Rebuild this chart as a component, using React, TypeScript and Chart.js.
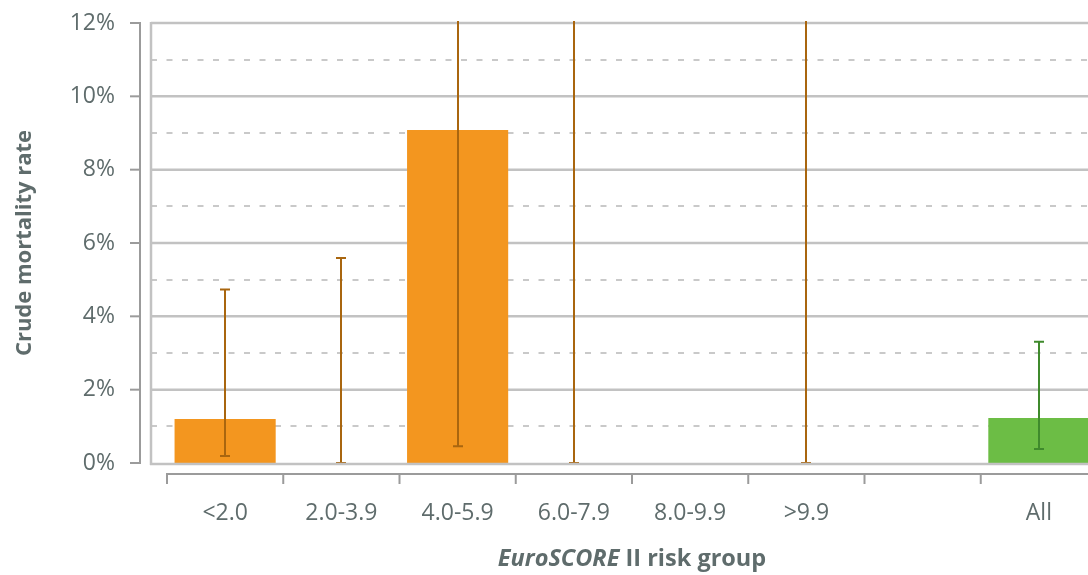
import { useEffect, useRef } from 'react';
import { Chart, registerables } from 'chart.js';

Chart.register(...registerables);

// EuroSCORE II risk groups (the blank slot separates the groups from the total)
const categories = ['<2.0', '2.0-3.9', '4.0-5.9', '6.0-7.9', '8.0-9.9', '>9.9', '', 'All'];
// Crude mortality rate, %
const mortality = [1.2, 0, 9.08, 0, null, 0, null, 1.23];
// 95% confidence interval bounds, %
const ciLow = [0.19, 0, 0.46, 0, null, 0, null, 0.38];
const ciHigh = [4.73, 5.59, 41, 84, null, 97.5, null, 3.31];
// Y axis ticks, %
const yTicks = [0, 2, 4, 6, 8, 10, 12];

const ORANGE = '#F3961F';
const GREEN = '#6CBD45';
const ORANGE_ERR = '#A9660F';
const GREEN_ERR = '#3F8A2C';
const TEXT = '#5f6c6c';
const FONT = '"Open Sans", sans-serif';

const barColors = categories.map((c) => (c === 'All' ? GREEN : ORANGE));
const errColors = categories.map((c) => (c === 'All' ? GREEN_ERR : ORANGE_ERR));

const FRAME_GAP = 16; // plot frame sits this far left of the first category
const AXIS_GAP = 11; // detached axis lines sit this far outside the frame

const framePlugin = {
  id: 'frame',
  beforeDatasetsDraw(chart: any) {
    const { ctx, chartArea, scales } = chart;
    const x = scales.x;
    const y = scales.y;
    const frameX = chartArea.left - FRAME_GAP;
    const right = chart.width;
    ctx.save();
    // minor dashed grid at odd values
    ctx.strokeStyle = '#c9c9c9';
    ctx.lineWidth = 2;
    ctx.setLineDash([6, 9.5]);
    for (let v = 1; v < y.max; v += 2) {
      const py = Math.round(y.getPixelForValue(v));
      ctx.beginPath();
      ctx.moveTo(frameX, py);
      ctx.lineTo(right, py);
      ctx.stroke();
    }
    ctx.setLineDash([]);
    // major solid grid at labelled values
    ctx.strokeStyle = '#c2c2c2';
    ctx.lineWidth = 2.5;
    for (const v of yTicks) {
      if (v === 0) continue;
      const py = y.getPixelForValue(v);
      ctx.beginPath();
      ctx.moveTo(frameX, py);
      ctx.lineTo(right, py);
      ctx.stroke();
    }
    // frame left edge
    ctx.beginPath();
    ctx.moveTo(frameX, y.getPixelForValue(y.max) - 1);
    ctx.lineTo(frameX, y.getPixelForValue(0) + 2);
    ctx.stroke();

    // detached y axis with outward ticks
    ctx.strokeStyle = '#9b9b9b';
    ctx.lineWidth = 2;
    const ax = frameX - AXIS_GAP;
    ctx.beginPath();
    ctx.moveTo(ax, y.getPixelForValue(y.max) - 1);
    ctx.lineTo(ax, y.getPixelForValue(0) + 1);
    ctx.stroke();
    for (const v of yTicks) {
      const py = y.getPixelForValue(v);
      ctx.beginPath();
      ctx.moveTo(ax - 10, py);
      ctx.lineTo(ax, py);
      ctx.stroke();
    }

    // detached x axis with downward ticks at category boundaries
    const ay = chartArea.bottom + AXIS_GAP;
    const band = x.getPixelForValue(1) - x.getPixelForValue(0);
    ctx.beginPath();
    ctx.moveTo(x.left - 1, ay);
    ctx.lineTo(right, ay);
    ctx.stroke();
    for (let i = 0; i <= categories.length; i++) {
      const px = x.getPixelForValue(0) - band / 2 + i * band;
      ctx.beginPath();
      ctx.moveTo(px, ay - 1);
      ctx.lineTo(px, ay + 10);
      ctx.stroke();
    }
    ctx.restore();
  },
};

const errorBarPlugin = {
  id: 'errorBars',
  afterDatasetsDraw(chart: any) {
    const { ctx, chartArea, scales } = chart;
    const x = scales.x;
    const y = scales.y;
    const y0 = y.getPixelForValue(0);
    ctx.save();
    ctx.beginPath();
    ctx.rect(0, chartArea.top - 2, chart.width, y0 - chartArea.top + 2);
    ctx.clip();
    ctx.lineWidth = 2;
    categories.forEach((_, i) => {
      const lo = ciLow[i];
      const hi = ciHigh[i];
      if (lo == null || hi == null) return;
      const cx = Math.round(x.getPixelForValue(i));
      const pTop = y.getPixelForValue(hi);
      const pBot = y.getPixelForValue(lo);
      ctx.strokeStyle = errColors[i];
      ctx.beginPath();
      ctx.moveTo(cx, pTop);
      ctx.lineTo(cx, pBot);
      ctx.moveTo(cx - 5, pTop);
      ctx.lineTo(cx + 5, pTop);
      ctx.moveTo(cx - 5, pBot);
      ctx.lineTo(cx + 5, pBot);
      ctx.stroke();
    });
    ctx.restore();

    // zero baseline of the plot frame
    ctx.save();
    ctx.strokeStyle = '#c2c2c2';
    ctx.lineWidth = 2.5;
    ctx.beginPath();
    ctx.moveTo(chartArea.left - FRAME_GAP - 1, y0 + 1);
    ctx.lineTo(chart.width, y0 + 1);
    ctx.stroke();
    ctx.restore();
  },
};

const xTitlePlugin = {
  id: 'xTitle',
  afterDraw(chart: any) {
    const { ctx } = chart;
    const x = chart.scales.x;
    const italicPart = 'EuroSCORE';
    const plainPart = ' II risk group';
    const size = 23.5;
    ctx.save();
    ctx.fillStyle = TEXT;
    ctx.textBaseline = 'alphabetic';
    ctx.textAlign = 'left';
    ctx.font = `italic bold ${size}px ${FONT}`;
    const w1 = ctx.measureText(italicPart).width;
    ctx.font = `bold ${size}px ${FONT}`;
    const w2 = ctx.measureText(plainPart).width;
    const start = (x.left + x.right) / 2 - (w1 + w2) / 2;
    const baseline = chart.height - 9;
    ctx.font = `italic bold ${size}px ${FONT}`;
    ctx.fillText(italicPart, start, baseline);
    ctx.font = `bold ${size}px ${FONT}`;
    ctx.fillText(plainPart, start + w1, baseline);
    ctx.restore();
  },
};

export default function App() {
  const canvasRef = useRef<HTMLCanvasElement>(null);

  useEffect(() => {
    const canvas = canvasRef.current;
    if (!canvas) return;
    const chart = new Chart(canvas, {
      type: 'bar',
      data: {
        labels: categories,
        datasets: [
          {
            data: mortality as any,
            backgroundColor: barColors,
            borderWidth: 0,
            categoryPercentage: 1,
            barPercentage: 0.87,
          },
        ],
      },
      options: {
        animation: false,
        responsive: false,
        devicePixelRatio: 1,
        layout: { padding: { top: 23, right: 33, left: 0, bottom: 0 } },
        plugins: {
          legend: { display: false },
          tooltip: { enabled: false },
        },
        scales: {
          x: {
            // tick marks are hidden; their length only spaces the labels
            grid: { display: false, drawTicks: true, tickLength: 33 },
            border: { display: false },
            ticks: {
              padding: 4,
              color: TEXT,
              font: { family: FONT, size: 23 },
              maxRotation: 0,
              autoSkip: false,
            },
            afterFit: (scale: any) => {
              scale.height = 112;
            },
          },
          y: {
            min: 0,
            max: 12,
            grid: { display: false, drawTicks: true, tickLength: 48 },
            border: { display: false },
            ticks: {
              stepSize: 2,
              padding: 4,
              color: TEXT,
              font: { family: FONT, size: 23 },
              callback: (v: any) => `${v}%`,
            },
            title: {
              display: true,
              text: 'Crude mortality rate',
              color: TEXT,
              font: { family: FONT, size: 22, weight: 'bold' },
              padding: { top: 12, bottom: 0 },
            },
            afterFit: (scale: any) => {
              scale.width = 167;
            },
          },
        },
      },
      plugins: [framePlugin, errorBarPlugin, xTitlePlugin],
    });
    return () => chart.destroy();
  }, []);

  return (
    <div
      style={{
        position: 'fixed',
        left: 0,
        top: 0,
        width: 1088,
        height: 575,
        overflow: 'hidden',
        background: '#ffffff',
      }}
    >
      <canvas ref={canvasRef} width={1130} height={575} style={{ display: 'block' }} />
    </div>
  );
}
